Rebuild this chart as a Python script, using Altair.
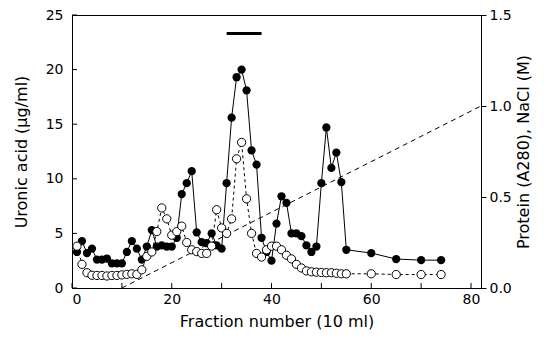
import altair as alt
import pandas as pd

# ---- data ----
fraction = list(range(1, 56)) + [60, 65, 70, 74]
uronic = [3.3, 4.3, 3.2, 3.6, 2.6, 2.6, 2.7, 2.25, 2.25, 2.25,
          3.3, 4.3, 3.6, 2.6, 3.8, 5.3, 3.8, 3.9, 3.8, 3.8,
          4.6, 8.6, 9.6, 10.7, 5.1, 4.2, 4.1, 5.0, 3.9, 3.6,
          9.6, 15.6, 19.3, 20.0, 18.1, 12.6, 11.3, 4.6, 3.3, 2.5,
          5.9, 8.4, 7.8, 5.0, 5.0, 4.75, 3.9, 3.3, 3.8, 9.6,
          14.7, 11.0, 12.4, 9.7, 3.5,
          3.2, 2.65, 2.55, 2.55]
protein = [0.23, 0.13, 0.084, 0.07, 0.069, 0.069, 0.066, 0.069, 0.069, 0.072,
           0.075, 0.078, 0.075, 0.10, 0.174, 0.198, 0.31, 0.44, 0.38, 0.29,
           0.31, 0.34, 0.25, 0.21, 0.20, 0.19, 0.19, 0.23, 0.43, 0.33,
           0.30, 0.38, 0.71, 0.80, 0.49, 0.30, 0.19, 0.17, 0.21, 0.23,
           0.23, 0.21, 0.18, 0.16, 0.13, 0.11, 0.094, 0.089, 0.087, 0.085,
           0.084, 0.084, 0.081, 0.078, 0.078,
           0.078, 0.074, 0.074, 0.074]
nacl_fraction = [10, 82]
nacl_molar = [0.0, 1.0]
pool_start = [31]
pool_end = [38]
pool_level = [23.3]

x_tick_values = [0, 10, 20, 30, 40, 50, 60, 70, 80]
x_label_values = [0, 20, 40, 60, 80]
left_tick_values = [0, 5, 10, 15, 20, 25]
right_tick_values = [0.0, 0.5, 1.0, 1.5]

W, H = 409, 273
FONT = "DejaVu Sans"

df = pd.DataFrame({"fraction": fraction, "uronic": uronic, "protein": protein})
nacl_df = pd.DataFrame({"fraction": nacl_fraction, "nacl": nacl_molar})
pool_df = pd.DataFrame({"x1": pool_start, "x2": pool_end, "y": pool_level})
xt_df = pd.DataFrame({"t": x_tick_values})
lt_df = pd.DataFrame({"t": left_tick_values})

xs = alt.Scale(domain=[0, 82], nice=False, zero=False)
yl = alt.Scale(domain=[0, 25], nice=False)
yr = alt.Scale(domain=[0, 1.5], nice=False)

X_TITLE = "Fraction number (10 ml)"
YL_TITLE = "Uronic acid (µg/ml)"
YR_TITLE = "Protein (A280), NaCl (M)"

x_axis = alt.Axis(values=x_label_values, tickSize=0, labelPadding=4,
                  titlePadding=7, grid=False)
yl_axis = alt.Axis(values=left_tick_values, tickSize=0, labelPadding=9,
                   format="d", titlePadding=16, grid=False)
yr_axis = alt.Axis(orient="right", values=right_tick_values, format=".1f",
                   tickSize=5, labelPadding=3, titlePadding=20,
                   titleAngle=270, grid=False)


def X(field):
    return alt.X(field, scale=xs, axis=x_axis, title=X_TITLE)


def YL(field):
    return alt.Y(field, scale=yl, axis=yl_axis, title=YL_TITLE)


def YR(field):
    return alt.Y(field, scale=yr, axis=yr_axis, title=YR_TITLE)


base = alt.Chart(df)

uronic_line = base.mark_line(color="black", strokeWidth=1).encode(
    x=X("fraction:Q"), y=YL("uronic:Q"))
uronic_pts = base.mark_point(shape="circle", filled=True, color="black",
                             size=68, opacity=1).encode(
    x=X("fraction:Q"), y=YL("uronic:Q"))
pool_bar = alt.Chart(pool_df).mark_rule(color="black", strokeWidth=3).encode(
    x=X("x1:Q"), x2="x2:Q", y=YL("y:Q"))
x_ticks = alt.Chart(xt_df).mark_rule(color="black", strokeWidth=1).encode(
    x=X("t:Q"), y=alt.value(H), y2=alt.value(H - 5))
left_ticks = alt.Chart(lt_df).mark_rule(color="black", strokeWidth=1).encode(
    y=YL("t:Q"), x=alt.value(0), x2=alt.value(5))

left = alt.layer(uronic_line, pool_bar, x_ticks, left_ticks, uronic_pts)

protein_line = base.mark_line(color="black", strokeWidth=1,
                              strokeDash=[3, 3]).encode(
    x=X("fraction:Q"), y=YR("protein:Q"))
protein_pts = base.mark_point(shape="circle", filled=True, fill="white",
                              stroke="black", strokeWidth=1, size=68,
                              opacity=1).encode(
    x=X("fraction:Q"), y=YR("protein:Q"))
nacl_line = alt.Chart(nacl_df).mark_line(color="black", strokeWidth=1,
                                         strokeDash=[5, 4]).encode(
    x=X("fraction:Q"), y=YR("nacl:Q"))

right = alt.layer(nacl_line, protein_line, protein_pts)

chart = alt.layer(left, right).resolve_scale(y="independent").properties(
    width=W, height=H,
    autosize=alt.AutoSizeParams(type="none"),
    padding={"left": 64, "top": 7, "right": 55, "bottom": 45},
    background="white",
).configure_view(stroke="black", strokeWidth=1).configure_axis(
    labelFont=FONT, titleFont=FONT, labelFontSize=14, titleFontSize=16,
    titleFontWeight="normal", labelColor="black", titleColor="black",
    domainColor="black", tickColor="black",
)

chart.save("out.html", embed_options={"renderer": "svg", "actions": False})
